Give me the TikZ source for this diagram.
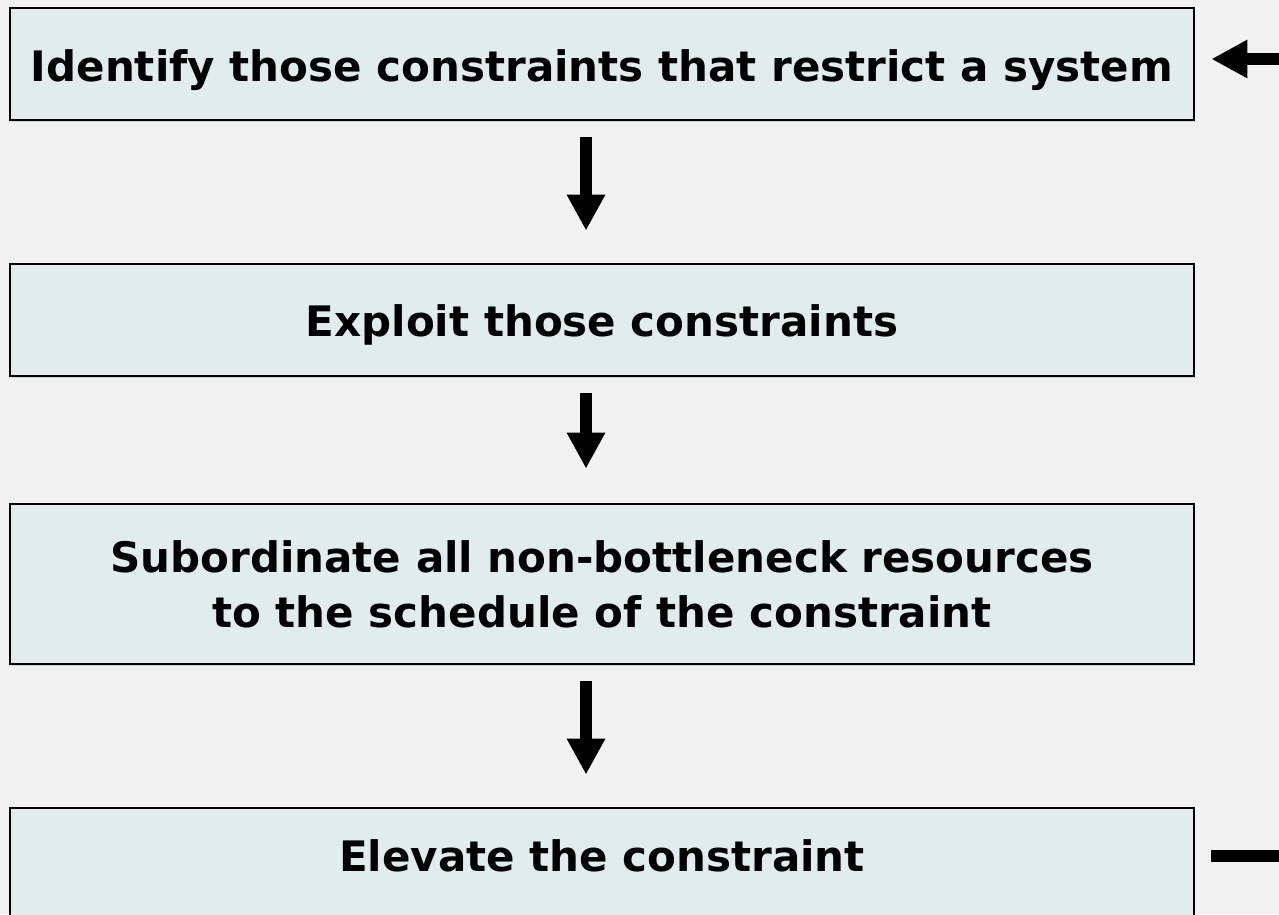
\documentclass[tikz,border=0pt]{standalone}
\usepackage{fontspec}
\setmainfont{DejaVu Sans}
\usetikzlibrary{arrows.meta,shadows}
\definecolor{pagebg}{HTML}{F2F2F2}
\definecolor{stepfill}{HTML}{E1EDED}
% single line of text whose baseline sits #1 below the box centre
\newcommand{\steptext}[2]{\raisebox{-#1}[0pt][0pt]{#2}}
\begin{document}
\begin{tikzpicture}[x=1pt,y=-1pt,
  stepbox/.style={draw=black,line width=2.8pt,fill=stepfill,
    drop shadow={shadow xshift=1pt,shadow yshift=-2pt,fill=black!25,opacity=0.6},
    minimum width=1184pt,inner sep=0pt,align=center,
    font=\fontsize{42}{55}\selectfont\bfseries},
  flow/.style={line width=12pt,-{Triangle[width=36pt,length=36pt]}}]
\useasboundingbox (0,0) rectangle (1279,914);
\clip (0,0) rectangle (1279,914);
\fill[pagebg] (0,0) rectangle (1279,914);
\node[stepbox,minimum height=112pt] (identify) at (602,64)
  {\steptext{17pt}{Identify those constraints that restrict a system}};
\node[stepbox,minimum height=112pt] (exploit) at (602,320)
  {\steptext{16pt}{Exploit those constraints}};
\node[stepbox,minimum height=160pt] (subord) at (602,584)
  {Subordinate all non-bottleneck resources\\to the schedule of the constraint};
\node[stepbox,minimum height=124pt] (elevate) at (602,870)
  {\steptext{1pt}{Elevate the constraint}};
\draw[flow] ([xshift=-16pt,yshift=-16pt]identify.south) -- ([xshift=-16pt,yshift=32pt]exploit.north);
\draw[flow] ([xshift=-16pt,yshift=-16pt]exploit.south) -- ([xshift=-16pt,yshift=34pt]subord.north);
\draw[flow] ([xshift=-16pt,yshift=-16pt]subord.south) -- ([xshift=-16pt,yshift=32pt]elevate.north);
\coordinate (loopin) at (1279,59);
\coordinate (loopout) at (1279,856);
\draw[flow] (loopin) -- ([xshift=16pt,yshift=5pt]identify.east);
\draw[line width=12pt] ([xshift=16pt]elevate.east |- loopout) -- (loopout);
\end{tikzpicture}
\end{document}
